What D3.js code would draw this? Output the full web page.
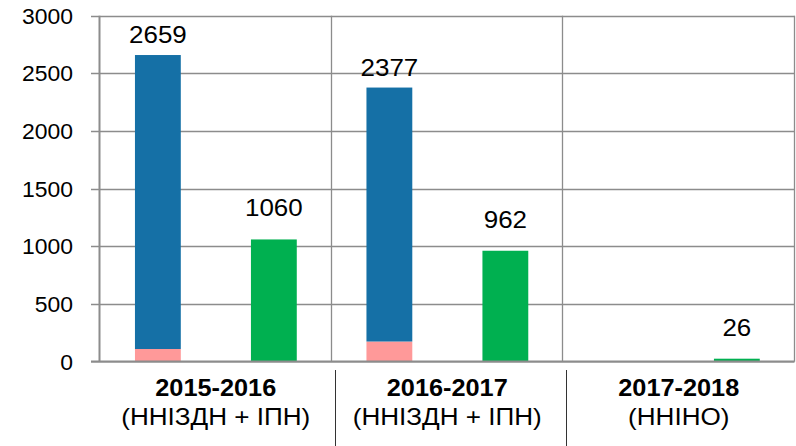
<!DOCTYPE html>
<html>
<head>
<meta charset="utf-8">
<script src="https://cdn.jsdelivr.net/npm/d3@7/dist/d3.min.js"></script>
<style>
  body { margin: 0; background: #fff; }
  text { font-family: "Liberation Sans", Arial, sans-serif; }
</style>
</head>
<body>
<div id="chart"></div>
<script>
// data
const years = ['2015-2016', '2016-2017', '2017-2018'];
const programs = ['(ННІЗДН + ІПН)', '(ННІЗДН + ІПН)', '(ННІНО)'];
const pinkValues = [110, 175, 0];
const blueValues = [2549, 2202, 0];
const greenValues = [1060, 962, 26];
const yTicks = [0, 500, 1000, 1500, 2000, 2500, 3000];

const width = 796;
const height = 446;
const marginLeft = 100;
const marginRight = 1.5;
const marginTop = 15.7;
const plotBottom = 361.7;

const svg = d3.select('#chart').append('svg')
    .attr('width', width)
    .attr('height', height);

const x = d3.scaleBand().domain(years).range([marginLeft, width - marginRight]);
const y = d3.scaleLinear().domain([0, 3000]).range([plotBottom, marginTop]);
const barW = x.bandwidth() * 0.198;
const blueOff = x.bandwidth() * 0.151;
const greenOff = x.bandwidth() * 0.652;

// the original text is a little stretched sideways
const stretch = (sx) => function () {
  const t = d3.select(this);
  const tx = +t.attr('x'), ty = +t.attr('y');
  t.attr('x', 0).attr('y', 0)
   .attr('transform', `translate(${tx},${ty}) scale(${sx},1)`);
};

// horizontal gridlines + left ticks
svg.append('g')
  .selectAll('line')
  .data(yTicks.filter(d => d > 0))
  .join('line')
    .attr('x1', marginLeft - 9)
    .attr('x2', width - marginRight)
    .attr('y1', d => Math.round(y(d)) + 0.5)
    .attr('y2', d => Math.round(y(d)) + 0.5)
    .attr('stroke', '#8c8c8c')
    .attr('stroke-width', 1.3);

// vertical lines between categories
const bounds = years.map(d => x(d)).concat([x(years[2]) + x.bandwidth()]);
svg.append('g')
  .selectAll('line')
  .data(bounds)
  .join('line')
    .attr('x1', d => Math.round(d) - 0.5)
    .attr('x2', d => Math.round(d) - 0.5)
    .attr('y1', y(3000))
    .attr('y2', y(0))
    .attr('stroke', '#8c8c8c')
    .attr('stroke-width', (d, i) => i === 0 ? 2 : 1.3);

// bars
svg.append('g').attr('fill', '#ff9999')
  .selectAll('rect')
  .data(years)
  .join('rect')
    .attr('x', d => x(d) + blueOff)
    .attr('width', barW)
    .attr('y', (d, i) => y(pinkValues[i]))
    .attr('height', (d, i) => y(0) - y(pinkValues[i]));

svg.append('g').attr('fill', '#1570a6')
  .selectAll('rect')
  .data(years)
  .join('rect')
    .attr('x', d => x(d) + blueOff)
    .attr('width', barW)
    .attr('y', (d, i) => y(pinkValues[i] + blueValues[i]))
    .attr('height', (d, i) => y(pinkValues[i]) - y(pinkValues[i] + blueValues[i]));

svg.append('g').attr('fill', '#00b050')
  .selectAll('rect')
  .data(years)
  .join('rect')
    .attr('x', d => x(d) + greenOff)
    .attr('width', barW)
    .attr('y', (d, i) => y(greenValues[i]))
    .attr('height', (d, i) => y(0) - y(greenValues[i]));

// x axis line
svg.append('line')
    .attr('x1', marginLeft - 9)
    .attr('x2', width - marginRight)
    .attr('y1', y(0))
    .attr('y2', y(0))
    .attr('stroke', '#8c8c8c')
    .attr('stroke-width', 2.2);

// y tick labels
svg.append('g')
  .selectAll('text')
  .data(yTicks)
  .join('text')
    .attr('x', 73)
    .attr('y', d => y(d))
    .attr('dy', '0.36em')
    .attr('text-anchor', 'end')
    .style('font-size', '22.5px')
    .text(d => d)
    .each(stretch(1.02));

// value labels
const labels = svg.append('g')
    .attr('text-anchor', 'middle')
    .style('font-size', '24.5px');

labels.selectAll('.stack-label')
  .data(years.filter((d, i) => pinkValues[i] + blueValues[i] > 0))
  .join('text')
    .attr('class', 'stack-label')
    .attr('x', d => x(d) + blueOff + barW / 2)
    .attr('y', (d, i) => y(pinkValues[i] + blueValues[i]) - 12)
    .text((d, i) => pinkValues[i] + blueValues[i])
    .each(stretch(1.06));

labels.selectAll('.green-label')
  .data(years)
  .join('text')
    .attr('class', 'green-label')
    .attr('x', d => x(d) + greenOff + barW / 2)
    .attr('y', (d, i) => y(greenValues[i]) - 23)
    .text((d, i) => greenValues[i])
    .each(stretch(1.06));

// category labels
const cat = svg.append('g').attr('text-anchor', 'middle');
cat.selectAll('.year')
  .data(years)
  .join('text')
    .attr('class', 'year')
    .attr('x', d => x(d) + x.bandwidth() / 2)
    .attr('y', 395.5)
    .style('font-size', '23px')
    .style('font-weight', 'bold')
    .text(d => d)
    .each(stretch(1.1));

cat.selectAll('.prog')
  .data(years)
  .join('text')
    .attr('class', 'prog')
    .attr('x', d => x(d) + x.bandwidth() / 2)
    .attr('y', 425)
    .style('font-size', '23.5px')
    .text((d, i) => programs[i])
    .each(stretch(1.11));

// separators under the axis
svg.append('g')
  .selectAll('line')
  .data(bounds.slice(1, 3))
  .join('line')
    .attr('x1', d => Math.round(d) + 3.5)
    .attr('x2', d => Math.round(d) + 3.5)
    .attr('y1', 370)
    .attr('y2', height)
    .attr('stroke', '#333')
    .attr('stroke-width', 1);
</script>
</body>
</html>
